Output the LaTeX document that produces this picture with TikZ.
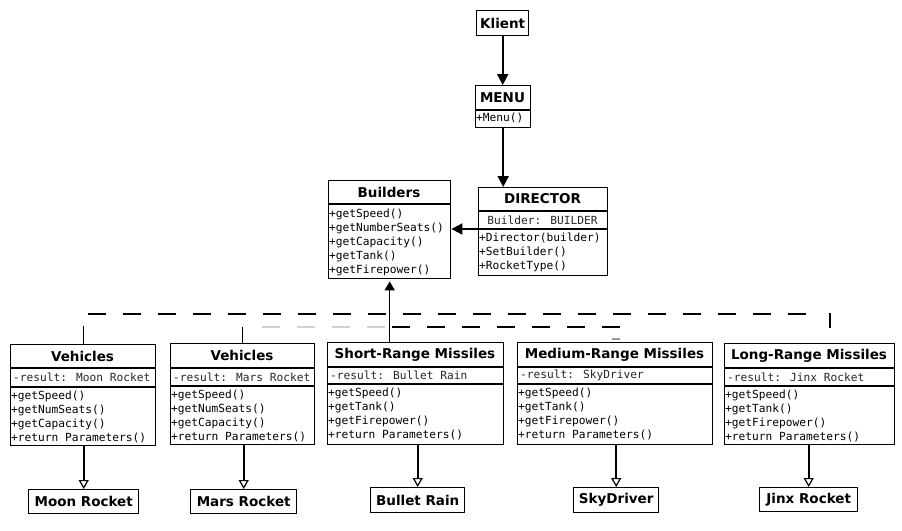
\documentclass[tikz,border=0pt]{standalone}
\usepackage{fontspec}
\usetikzlibrary{arrows.meta}
\newfontfamily\hdrfont{DejaVu Sans}
\newfontfamily\monofont{DejaVu Sans Mono}

\tikzset{
  frame/.style={draw=black, line width=1.4pt, inner sep=0pt, anchor=north west},
  leafbox/.style={frame, font=\hdrfont\bfseries\fontsize{13.5}{16}\selectfont},
  titletext/.style={font=\hdrfont\bfseries\fontsize{13.5}{16}\selectfont, inner sep=0pt},
  attrtext/.style={font=\monofont\fontsize{11.2}{14}\selectfont, inner sep=0pt, text=black!85},
  membertext/.style={font=\monofont\fontsize{11.2}{14}\selectfont, inner sep=0pt,
    align=left, anchor=north west},
  sepline/.style={line width=1.1pt},
  flow/.style={line width=2pt, -{Triangle[length=11pt,width=11pt]}},
  upflow/.style={line width=1.5pt, -{Triangle[length=9pt,width=10pt]}},
  inherit/.style={line width=1.6pt, -{Triangle[open,length=9pt,width=10pt,line width=1.2pt]}},
  dashline/.style={line width=1.3pt, dash pattern=on 18pt off 17pt},
  fadedash/.style={line width=1.3pt, dash pattern=on 18pt off 17pt, draw=black!18},
  stub/.style={line width=1.3pt},
}

% #1 name, #2 x, #3 y (top), #4 width, #5 height,
% #6 title height, #7 attribute height, #8 title, #9 attribute
\newcommand\classbox[9]{%
  \node[frame, minimum width=#4pt, minimum height=#5pt] (#1) at (#2,#3) {};
  \node[titletext] (#1-t) at ({#2+#4/2},{#3+#6/2}) {#8};
  \coordinate (#1-s1) at (#2,{#3+#6});
  \draw[sepline] (#1-s1) -- (#1-s1 -| #1.east);
  \coordinate (#1-ms) at (#2,{#3+#6+#7});
  \draw[sepline] (#1-ms) -- (#1-ms -| #1.east);
  \ifx\relax#9\relax\else
    \node[attrtext, anchor=west] (#1-a) at ({#2+3},{#3+#6+#7/2}) {#9};
  \fi
}

\begin{document}
\begin{tikzpicture}[x=1pt,y=-1pt]
\useasboundingbox[fill=white] (0,0) rectangle (902,530);

% top of the chain
\node[leafbox, minimum width=52pt, minimum height=25pt] (klient) at (476,10) {Klient};

\classbox{menu}{475}{85}{55}{42}{25}{0}{MENU}{}
\node[membertext] (menu-m) at ([shift={(1pt,-3pt)}]menu-ms) {+Menu()};

\classbox{director}{478}{187}{129}{88}{24}{18}{DIRECTOR}{}
\node[attrtext] (director-a) at ({478+129/2},{187+24+9}) {Builder: BUILDER};
\node[membertext] (director-m) at ([shift={(1pt,-3.5pt)}]director-ms)
  {+Director(builder)\\+SetBuilder()\\+RocketType()};

\classbox{builders}{328}{180}{122}{98}{24}{0}{Builders}{}
\node[membertext] (builders-m) at ([shift={(1pt,-5pt)}]builders-ms)
  {+getSpeed()\\+getNumberSeats()\\+getCapacity()\\+getTank()\\+getFirepower()};

% concrete builders
\classbox{v1}{10}{344}{145}{101}{24}{19}{Vehicles}{-result: Moon Rocket}
\node[membertext] (v1-m) at ([shift={(1pt,-4pt)}]v1-ms)
  {+getSpeed()\\+getNumSeats()\\+getCapacity()\\+return Parameters()};

\classbox{v2}{170}{343}{144}{101}{25}{18}{Vehicles}{-result: Mars Rocket}
\node[membertext] (v2-m) at ([shift={(1pt,-4pt)}]v2-ms)
  {+getSpeed()\\+getNumSeats()\\+getCapacity()\\+return Parameters()};

\classbox{short}{327}{342}{176}{102}{25}{17}{Short-Range Missiles}{-result: Bullet Rain}
\node[membertext] (short-m) at ([shift={(1pt,-4pt)}]short-ms)
  {+getSpeed()\\+getTank()\\+getFirepower()\\+return Parameters()};

\classbox{medium}{517}{342}{195}{102}{25}{17}{Medium-Range Missiles}{-result: SkyDriver}
\node[membertext] (medium-m) at ([shift={(1pt,-4pt)}]medium-ms)
  {+getSpeed()\\+getTank()\\+getFirepower()\\+return Parameters()};

\classbox{long}{724}{343}{170}{101}{25}{18}{Long-Range Missiles}{-result: Jinx Rocket}
\node[membertext] (long-m) at ([shift={(1pt,-4pt)}]long-ms)
  {+getSpeed()\\+getTank()\\+getFirepower()\\+return Parameters()};

% products
\node[leafbox, minimum width=110pt, minimum height=24pt] (moon) at (28,489) {Moon Rocket};
\node[leafbox, minimum width=106pt, minimum height=24pt] (mars) at (190,489) {Mars Rocket};
\node[leafbox, minimum width=94pt, minimum height=25pt] (bullet) at (370,487) {Bullet Rain};
\node[leafbox, minimum width=85pt, minimum height=25pt] (sky) at (573,487) {SkyDriver};
\node[leafbox, minimum width=98pt, minimum height=24pt] (jinx) at (759,487) {Jinx Rocket};

% control flow
\draw[flow] (klient.south) -- (klient.south |- menu.north);
\draw[flow] (menu.south) -- (menu.south |- director.north);
\draw[flow] (director-ms) -- (director-ms -| builders.east);
\draw[upflow] (short.north -| builders.south) -- ([yshift=-2pt]builders.south);

% inheritance lines to the builders
\coordinate (dA) at (88,314);
\coordinate (dB) at (812,314);
\coordinate (dC) at (392,327);
\coordinate (dD) at (620,327);
\coordinate (fA) at (262,327);
\coordinate (fB) at (388,327);
\coordinate (sA) at (83,326);
\coordinate (sB) at (242,327);
\coordinate (sC) at (830,313);
\coordinate (sD) at (830,328);
\coordinate (tA) at (612,339);
\coordinate (tB) at (620,339);
\draw[dashline] (dA) -- (dB);
\draw[dashline] (dC) -- (dD);
\draw[fadedash] (fA) -- (fB);
\draw[stub] (v1.north |- sA) -- (v1.north);
\draw[stub] (v2.north |- sB) -- (v2.north);
\draw[stub] (sC) -- (sD);
\draw[line width=1.2pt, draw=black!40] (tA) -- (tB);

% products built
\draw[inherit] (v1.south -| moon.north) -- (moon.north);
\draw[inherit] (v2.south -| mars.north) -- (mars.north);
\draw[inherit] (short.south -| bullet.north) -- (bullet.north);
\draw[inherit] (medium.south -| sky.north) -- (sky.north);
\draw[inherit] (long.south -| jinx.north) -- (jinx.north);
\end{tikzpicture}
\end{document}
